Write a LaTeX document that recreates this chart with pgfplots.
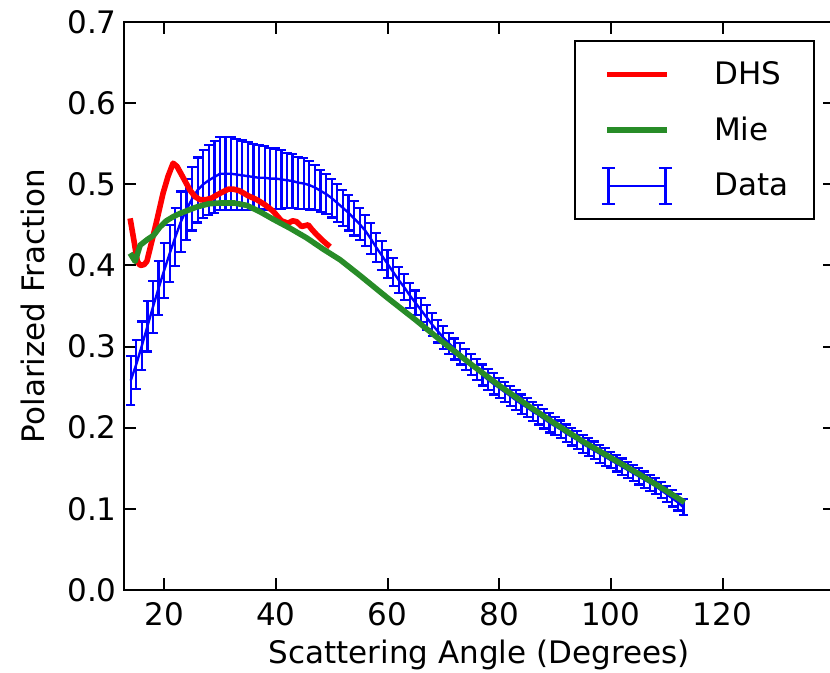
\documentclass[border=0pt]{standalone}
\usepackage{fontspec}
\setmainfont{DejaVu Sans}
\usepackage{pgfplots}
\pgfplotsset{compat=1.18}
\usepackage{pgfplotstable}
\definecolor{mred}{RGB}{255,0,0}
\definecolor{mgreen}{RGB}{40,140,40}
\definecolor{mblue}{RGB}{0,0,255}

\pgfplotstableread{
x c e
14 0.258 0.030
15 0.278 0.030
16 0.301 0.030
17 0.325 0.031
18 0.349 0.032
19 0.372 0.033
20 0.394 0.034
21 0.415 0.035
22 0.435 0.036
23 0.454 0.037
24 0.469 0.038
25 0.482 0.039
26 0.493 0.040
27 0.500 0.042
28 0.505 0.043
29 0.509 0.044
30 0.513 0.045
31 0.513 0.045
32 0.513 0.045
33 0.512 0.044
34 0.511 0.043
35 0.510 0.042
36 0.509 0.041
37 0.508 0.040
38 0.508 0.039
39 0.507 0.038
40 0.507 0.037
41 0.506 0.036
42 0.505 0.034
43 0.504 0.033
44 0.502 0.032
45 0.501 0.031
46 0.499 0.030
47 0.496 0.028
48 0.492 0.026
49 0.488 0.025
50 0.483 0.024
51 0.477 0.023
52 0.471 0.022
53 0.465 0.022
54 0.458 0.021
55 0.451 0.020
56 0.443 0.019
57 0.433 0.019
58 0.422 0.018
59 0.412 0.018
60 0.402 0.017
61 0.392 0.017
62 0.382 0.016
63 0.373 0.016
64 0.363 0.015
65 0.354 0.015
66 0.345 0.015
67 0.336 0.015
68 0.327 0.014
69 0.319 0.014
70 0.311 0.014
71 0.304 0.013
72 0.297 0.013
73 0.291 0.013
74 0.284 0.013
75 0.278 0.013
76 0.272 0.013
77 0.265 0.013
78 0.259 0.013
79 0.254 0.013
80 0.249 0.012
81 0.244 0.012
82 0.239 0.012
83 0.234 0.012
84 0.229 0.012
85 0.225 0.012
86 0.220 0.012
87 0.216 0.012
88 0.211 0.012
89 0.206 0.012
90 0.202 0.011
91 0.198 0.011
92 0.193 0.011
93 0.189 0.011
94 0.185 0.011
95 0.180 0.011
96 0.176 0.011
97 0.172 0.011
98 0.168 0.011
99 0.164 0.011
100 0.160 0.010
101 0.156 0.010
102 0.152 0.010
103 0.148 0.010
104 0.144 0.010
105 0.140 0.010
106 0.136 0.010
107 0.132 0.010
108 0.128 0.010
109 0.123 0.010
110 0.118 0.010
111 0.113 0.010
112 0.108 0.010
113 0.102 0.010
}\datatab

\pgfplotstableread{
x y
13.9 0.458
14.6 0.430
15.2 0.405
15.7 0.400
16.4 0.401
16.9 0.405
17.8 0.430
18.7 0.456
19.8 0.489
20.7 0.510
21.6 0.526
22.3 0.522
23.1 0.512
24.6 0.493
25.5 0.485
26.4 0.481
27.5 0.481
28.5 0.483
29.5 0.487
30.6 0.491
31.5 0.494
32.4 0.494
33.5 0.492
35.0 0.486
36.6 0.481
38.0 0.475
39.5 0.467
41.0 0.455
42.2 0.452
43.0 0.455
43.7 0.454
44.6 0.448
45.8 0.450
46.5 0.444
47.3 0.438
48.5 0.430
49.7 0.423
}\dhstab

\pgfplotstableread{
x y
13.9 0.415
14.8 0.405
15.7 0.425
17.0 0.432
18.1 0.437
19.2 0.447
20.4 0.455
21.6 0.460
22.8 0.464
24.3 0.468
25.8 0.472
28.0 0.476
30.0 0.477
32.5 0.477
34.8 0.474
37.2 0.466
39.5 0.457
42.5 0.446
45.5 0.434
48.5 0.420
51.5 0.407
55.0 0.388
60.0 0.360
65.0 0.333
70.0 0.305
75.0 0.278
80.0 0.252
85.0 0.228
90.0 0.205
95.0 0.183
100.0 0.163
105.0 0.143
110.0 0.122
113.2 0.108
}\mietab

\begin{document}
\begin{tikzpicture}[font=\fontsize{15.5}{18.6}\selectfont]
\begin{axis}[
  name=ax,
  scale only axis,
  width=355pt, height=284pt,
  xmin=12.84, xmax=140, ymin=0, ymax=0.7,
  xtick={20,40,60,80,100,120},
  ytick={0,0.1,0.2,0.3,0.4,0.5,0.6,0.7},
  tick align=inside,
  xtick pos=both, ytick pos=both,
  xticklabel pos=lower, yticklabel pos=left,
  major tick length=5.8pt,
  axis line style={line width=1.1pt, black},
  every tick/.style={black, line width=1pt},
  /pgf/number format/assume math mode=true,
  every tick label/.append style={inner sep=0pt, font=\fontsize{15.5}{18.6}\selectfont},
  xticklabel style={yshift=-6pt},
  yticklabel style={xshift=-3.6pt, /pgf/number format/fixed, /pgf/number format/fixed zerofill, /pgf/number format/precision=1},
  xlabel={Scattering Angle (Degrees)},
  ylabel={Polarized Fraction},
  xlabel style={at={(ticklabel cs:0.5,7pt)}, anchor=near ticklabel, inner sep=0pt},
  ylabel style={at={(ticklabel cs:0.5,11pt)}, anchor=near ticklabel, inner sep=0pt},
  legend image code/.code={\path[draw=none,fill=none] (0pt,-9.5pt) rectangle (30pt,9.5pt); \draw[#1] (0pt,0pt) -- (30pt,0pt);},
  legend cell align=left,
  legend style={at={(1,1)}, anchor=north east, xshift=-9.5pt, yshift=-9pt,
    draw=black, line width=1pt, fill=white,
    inner xsep=13pt, inner ysep=7.25pt,
    nodes={inner sep=0pt},
    row sep=8.75pt, column sep=20.5pt,
    font=\fontsize{15.5}{18.6}\selectfont},
]
\addplot[mblue, line width=1.2pt, forget plot,
  error bars/.cd, y dir=both, y explicit,
  error bar style={line width=1.1pt, mblue},
  error mark options={mblue, rotate=90, mark size=2.3pt, line width=1.1pt}]
  table[x=x, y=c, y error=e]{\datatab};
\addplot[mred, line width=2.8pt, line join=round] table[x=x,y=y]{\dhstab};
\addlegendentry{DHS}
\addplot[mgreen, line width=2.8pt, line join=round] table[x=x,y=y]{\mietab};
\addlegendentry{Mie}
\addlegendimage{legend image code/.code={
  \path[draw=none,fill=none] (0pt,-9.5pt) rectangle (30pt,9.5pt);
  \draw[mblue, line width=1.1pt] (0.5pt,0pt) -- (29pt,0pt);
  \draw[mblue, line width=1.1pt] (0.5pt,-9pt) -- (0.5pt,9pt) (29pt,-9pt) -- (29pt,9pt);
  \draw[mblue, line width=1.1pt] (-2.8pt,9pt) -- (3.8pt,9pt) (-2.8pt,-9pt) -- (3.8pt,-9pt)
     (25.7pt,9pt) -- (32.3pt,9pt) (25.7pt,-9pt) -- (32.3pt,-9pt);}}
\addlegendentry{Data}
\end{axis}
\pgfresetboundingbox
\path ([shift={(-62.1pt,-41.5pt)}]ax.south west) rectangle ([shift={(352.9pt,295pt)}]ax.south west);
\end{tikzpicture}
\end{document}
